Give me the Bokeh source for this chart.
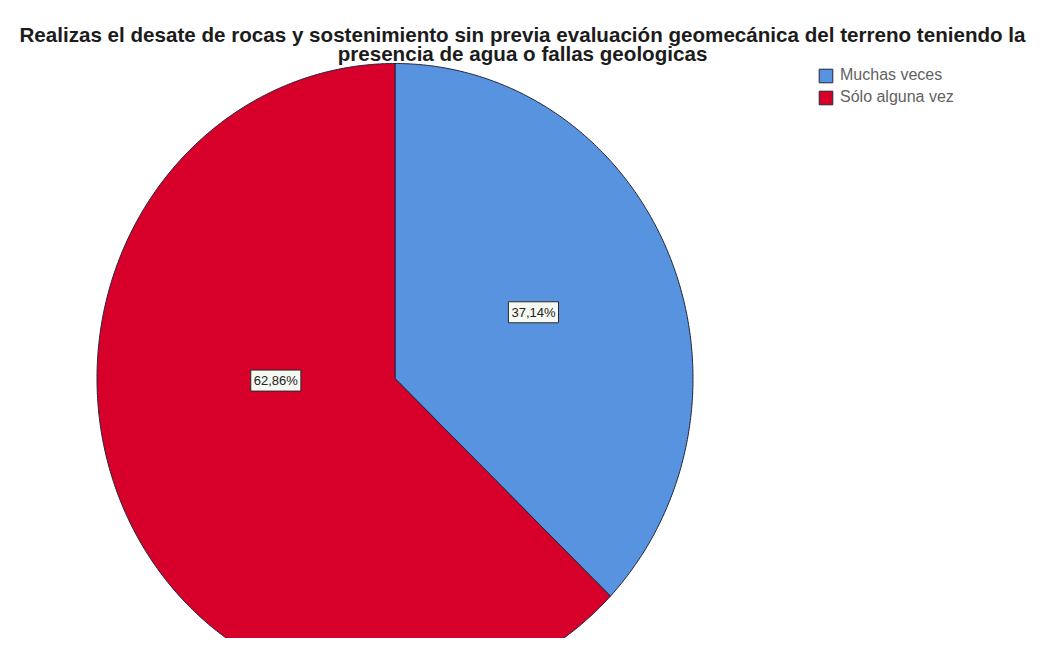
import math
from bokeh.plotting import figure
from bokeh.models import ColumnDataSource, Range1d, Label, Legend, LegendItem
from bokeh.embed import file_html
from bokeh.resources import INLINE

categories = ["Muchas veces", "Sólo alguna vez"]
percents = [37.14, 62.86]
labels = ["37,14%", "62,86%"]
colors = ["#5893df", "#d7002b"]

# ---- layout (canvas pixels) ----
W, H = 1041, 638
PX, PY = 394.5, 378.0      # pie centre in canvas px (y from top)
RX, RY = 298.0, 315.0      # pie radii in px (slightly stretched vertically)
label_r = [0.51, 0.40]
label_off = [-1.2, 22.2]   # degrees added to the slice mid angle

# pie lives on a unit circle; the ranges map it onto the canvas
x_range = Range1d(-PX / RX, (W - PX) / RX)
y_range = Range1d((PY - H) / RY, PY / RY)

total = sum(percents)
xs, ys, lx, ly = [], [], [], []
cum = 0.0
for i, v in enumerate(percents):
    a0 = cum / total * 360.0
    cum += v
    a1 = cum / total * 360.0
    n = max(2, int((a1 - a0) * 2))
    px = [0.0]
    py = [0.0]
    for k in range(n + 1):
        a = math.radians(a0 + (a1 - a0) * k / n)
        px.append(math.sin(a))
        py.append(math.cos(a))
    xs.append(px)
    ys.append(py)
    mid = math.radians((a0 + a1) / 2 + label_off[i])
    lx.append(label_r[i] * math.sin(mid))
    ly.append(label_r[i] * math.cos(mid))

src = ColumnDataSource(dict(cat=categories, xs=xs, ys=ys, color=colors))

p = figure(width=W, height=H, output_backend="svg", toolbar_location=None,
           x_range=x_range, y_range=y_range, min_border=0,
           background_fill_color="white", border_fill_color="white")
p.axis.visible = False
p.grid.visible = False
p.outline_line_color = None

r = p.patches(xs="xs", ys="ys", fill_color="color", line_color="#25253a",
              line_width=1, source=src)

for i in range(len(labels)):
    p.add_layout(Label(x=lx[i], y=ly[i], text=labels[i], text_font="Liberation Sans",
                       text_font_size="13px", text_color="#222222", text_align="center",
                       text_baseline="middle", background_fill_color="#f6f8f2",
                       border_line_color="#2a2a2a", border_line_width=1, padding=3))

title1 = "Realizas el desate de rocas y sostenimiento sin previa evaluación geomecánica del terreno teniendo la"
title2 = "presencia de agua o fallas geologicas"
for t, base in [(title1, 34), (title2, 53)]:
    p.add_layout(Label(x=522, y=H - base, x_units="screen", y_units="screen", text=t,
                       text_font="Liberation Sans", text_font_size="20.6px",
                       text_font_style="bold", text_color="#1c1c1c",
                       text_align="center", text_baseline="alphabetic"))

legend = Legend(items=[LegendItem(label=categories[i], renderers=[r], index=i) for i in range(2)],
                location=(817, H - 106), glyph_width=17, glyph_height=17, label_height=17,
                label_text_font="Liberation Sans", label_text_font_size="16px",
                label_text_color="#626262", spacing=4, padding=0, margin=0,
                label_standoff=6, border_line_color=None, background_fill_alpha=0)
p.add_layout(legend)

open("out.html", "w").write(file_html(p, INLINE))
